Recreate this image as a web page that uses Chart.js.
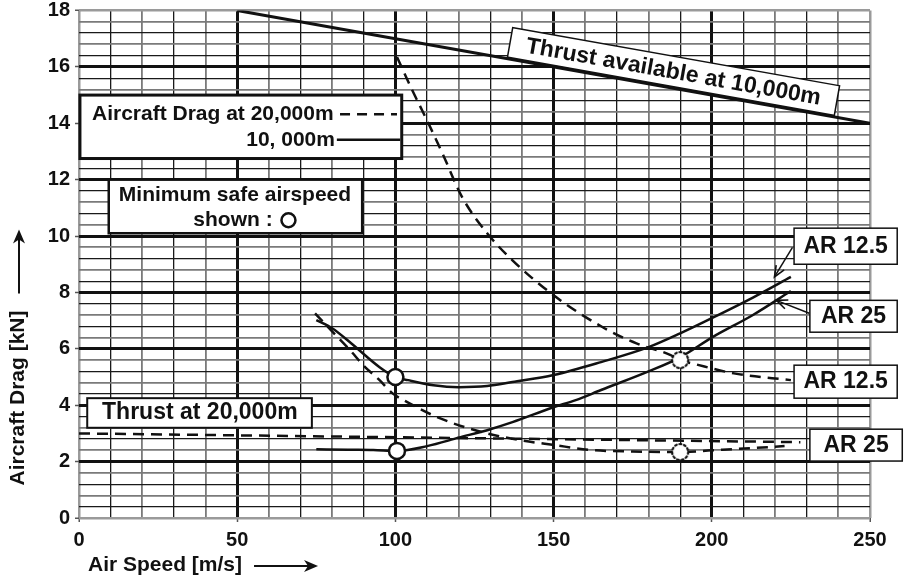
<!DOCTYPE html>
<html><head><meta charset="utf-8">
<script src="https://cdn.jsdelivr.net/npm/chart.js@4/dist/chart.umd.min.js"></script>
<style>html,body{margin:0;padding:0;background:#fff}#wrap{width:904px;height:578px;position:relative}</style>
</head><body><div id="wrap"><canvas id="c" width="904" height="578"></canvas></div>
<script>
const FONT = '"Liberation Sans", Arial, Helvetica, sans-serif';

// Tick labels shown on the axes
const xTickLabels = [0, 50, 100, 150, 200, 250];
const yTickLabels = [0, 2, 4, 6, 8, 10, 12, 14, 16, 18];

// Aircraft drag at 10,000 m (solid)
const ar125_10k_speed = [75, 80, 86, 95, 100, 104, 112, 120, 129, 137, 150, 165, 180, 190, 200, 213, 225];
const ar125_10k_drag  = [7.02, 6.73, 6.2, 5.35, 5.0, 4.89, 4.71, 4.64, 4.68, 4.82, 5.07, 5.53, 6.06, 6.55, 7.09, 7.82, 8.55];
const ar25_10k_speed  = [75, 85, 93, 100.5, 110, 120, 130, 137, 150, 157, 165, 180, 190, 200, 213, 225];
const ar25_10k_drag   = [2.44, 2.42, 2.41, 2.38, 2.55, 2.85, 3.15, 3.4, 3.93, 4.18, 4.54, 5.2, 5.7, 6.4, 7.2, 8.05];

// Aircraft drag at 20,000 m (dashed)
const ar125_20k_speed = [100.5, 105, 110, 115, 121, 129, 137, 150, 165, 176, 187, 190, 195, 207, 225];
const ar125_20k_drag  = [16.35, 15.25, 14.1, 12.9, 11.4, 10.1, 9.14, 7.9, 6.8, 6.2, 5.78, 5.6, 5.45, 5.13, 4.89];
const ar25_20k_speed  = [74.6, 80, 85.7, 90, 95, 99, 103.6, 114, 129, 140, 150, 162, 175, 190, 200, 213, 223];
const ar25_20k_drag   = [7.26, 6.62, 5.95, 5.4, 4.89, 4.43, 4.12, 3.54, 3.0, 2.75, 2.59, 2.41, 2.36, 2.34, 2.4, 2.48, 2.55];

// Thrust lines
const thrust10k_speed = [50, 250];
const thrust10k_kN    = [18, 14];
const thrust20k_speed = [0, 228];
const thrust20k_kN    = [3.0, 2.69];

// Minimum safe airspeed markers
const minSafe10k_speed = [100, 100.5];
const minSafe10k_drag  = [5.0, 2.38];
const minSafe20k_speed = [190, 190];
const minSafe20k_drag  = [5.6, 2.34];

function pts(xs, ys) { return xs.map((x, i) => ({ x: x, y: ys[i] })); }

// dotted circle marker
const dotted = document.createElement('canvas');
dotted.width = 24; dotted.height = 24;
(function () {
  const g = dotted.getContext('2d');
  g.beginPath(); g.arc(12, 12, 8, 0, Math.PI * 2);
  g.fillStyle = '#fff'; g.fill();
  g.setLineDash([1.8, 2.8]); g.lineWidth = 2.2; g.strokeStyle = '#111'; g.lineCap = 'round';
  g.stroke();
})();

const INK = '#111';

const annot = {
  id: 'annot',
  afterDatasetsDraw(chart) {
    const ctx = chart.ctx, xs = chart.scales.x, ys = chart.scales.y;
    const X = v => xs.getPixelForValue(v), Y = d => ys.getPixelForValue(d);
    ctx.save();
    function box(v1, d1, v2, d2, lw) {
      const x1 = X(v1), y1 = Y(d1), x2 = X(v2), y2 = Y(d2);
      ctx.fillStyle = '#fff';
      ctx.fillRect(x1, y1, x2 - x1, y2 - y1);
      ctx.lineWidth = lw; ctx.strokeStyle = INK; ctx.setLineDash([]);
      ctx.strokeRect(x1, y1, x2 - x1, y2 - y1);
    }
    function text(t, v, d, size, align) {
      ctx.font = 'bold ' + size + 'px ' + FONT;
      ctx.fillStyle = INK; ctx.textAlign = align || 'center'; ctx.textBaseline = 'middle';
      ctx.fillText(t, X(v), Y(d));
    }
    function seg(v1, d1, v2, d2, lw, dash) {
      ctx.beginPath(); ctx.moveTo(X(v1), Y(d1)); ctx.lineTo(X(v2), Y(d2));
      ctx.lineWidth = lw; ctx.strokeStyle = INK; ctx.setLineDash(dash || []); ctx.stroke();
      ctx.setLineDash([]);
    }
    function arrow(v1, d1, v2, d2) {
      const x1 = X(v1), y1 = Y(d1), x2 = X(v2), y2 = Y(d2);
      ctx.beginPath(); ctx.moveTo(x1, y1); ctx.lineTo(x2, y2);
      ctx.lineWidth = 1.5; ctx.strokeStyle = INK; ctx.stroke();
      const a = Math.atan2(y2 - y1, x2 - x1), L = 12, w = 0.4;
      ctx.beginPath();
      ctx.moveTo(x2 - L * Math.cos(a - w), y2 - L * Math.sin(a - w));
      ctx.lineTo(x2, y2);
      ctx.lineTo(x2 - L * Math.cos(a + w), y2 - L * Math.sin(a + w));
      ctx.lineWidth = 1.6; ctx.stroke();
    }

    // Legend box
    box(0.3, 15.0, 102, 12.75, 3);
    text('Aircraft Drag at 20,000m', 4.1, 14.32, 21, 'left');
    seg(82.5, 14.32, 100.5, 14.32, 2.5, [10, 7]);
    text('10, 000m', 80.9, 13.39, 21, 'right');
    seg(81.5, 13.42, 101.5, 13.42, 2.5);

    // Minimum safe airspeed box
    box(9.4, 12.0, 89.5, 10.1, 2.5);
    text('Minimum safe airspeed', 49.3, 11.45, 21, 'center');
    text('shown :', 61.2, 10.56, 21, 'right');
    ctx.beginPath(); ctx.arc(X(66.2), Y(10.56), 7, 0, Math.PI * 2);
    ctx.lineWidth = 2.5; ctx.strokeStyle = INK; ctx.stroke();

    // Thrust at 20,000 m box
    box(2.6, 4.25, 73.6, 3.2, 2);
    text('Thrust at 20,000m', 38.2, 3.72, 23, 'center');

    // Right-hand labels
    box(226, 10.28, 258.6, 9.0, 1.5);
    text('AR 12.5', 242.3, 9.64, 23, 'center');
    arrow(225.5, 9.6, 219.8, 8.55);
    box(231, 7.72, 258.6, 6.59, 1.5);
    text('AR 25', 244.8, 7.15, 23, 'center');
    arrow(230.8, 7.26, 220.4, 7.72);
    box(226, 5.42, 258.6, 4.25, 1.5);
    text('AR 12.5', 242.3, 4.83, 23, 'center');
    box(231, 3.15, 260.2, 2.02, 1.5);
    text('AR 25', 245.6, 2.58, 23, 'center');

    // Rotated "Thrust available" label
    const ang = Math.atan2(Y(thrust10k_kN[1]) - Y(thrust10k_kN[0]), X(thrust10k_speed[1]) - X(thrust10k_speed[0]));
    ctx.translate(X(187.9), Y(15.84));
    ctx.rotate(ang);
    ctx.fillStyle = '#fff'; ctx.fillRect(-166, -15, 332, 30);
    ctx.lineWidth = 1.5; ctx.strokeStyle = INK; ctx.strokeRect(-166, -15, 332, 30);
    ctx.font = 'bold 23px ' + FONT; ctx.fillStyle = INK;
    ctx.textAlign = 'center'; ctx.textBaseline = 'middle';
    ctx.fillText('Thrust available at 10,000m', 0, 1);
    ctx.restore();
  },
  afterDraw(chart) {
    const ctx = chart.ctx, ca = chart.chartArea;
    ctx.save();
    ctx.fillStyle = INK; ctx.strokeStyle = INK;
    ctx.font = 'bold 21px ' + FONT;
    // x title
    const xt = 'Air Speed [m/s]';
    const tx = ca.left + 9, ty = ca.bottom + 47;
    ctx.textAlign = 'left'; ctx.textBaseline = 'middle';
    ctx.fillText(xt, tx, ty);
    const w = ctx.measureText(xt).width;
    const ax1 = tx + w + 12, ax2 = ax1 + 64;
    ctx.beginPath(); ctx.moveTo(ax1, ty + 1); ctx.lineTo(ax2 - 4, ty + 1); ctx.lineWidth = 2; ctx.stroke();
    ctx.beginPath(); ctx.moveTo(ax2, ty + 1); ctx.lineTo(ax2 - 14, ty - 5); ctx.lineTo(ax2 - 10, ty + 1); ctx.lineTo(ax2 - 14, ty + 7); ctx.closePath(); ctx.fill();
    // y title
    const yx = 18, yc = 398;
    ctx.translate(yx, yc); ctx.rotate(-Math.PI / 2);
    ctx.textAlign = 'center'; ctx.fillText('Aircraft Drag [kN]', 0, 0);
    const yw = ctx.measureText('Aircraft Drag [kN]').width;
    const b1 = yw / 2 + 17, b2 = b1 + 64;
    ctx.beginPath(); ctx.moveTo(b1, 1); ctx.lineTo(b2 - 4, 1); ctx.lineWidth = 2; ctx.stroke();
    ctx.beginPath(); ctx.moveTo(b2, 1); ctx.lineTo(b2 - 14, -5); ctx.lineTo(b2 - 10, 1); ctx.lineTo(b2 - 14, 7); ctx.closePath(); ctx.fill();
    ctx.restore();
  }
};

function gridStyleX(v) {
  if (v === 0 || v === 250) return { c: '#9a9a9a', w: 2.5 };
  if (v % 50 === 0) return { c: '#111', w: 3 };
  return (Math.round(v / 10) % 2 === 1) ? { c: '#1a1a1a', w: 1.3 } : { c: '#7a7a7a', w: 1.8 };
}
function gridStyleY(v) {
  const k = Math.round(v / 0.4);
  if (k === 0 || k === 45) return { c: '#9a9a9a', w: 2.5 };
  if (k % 5 === 0) return { c: '#111', w: 3 };
  return (k % 2 === 1) ? { c: '#1a1a1a', w: 1.3 } : { c: '#7a7a7a', w: 1.8 };
}

const lineBase = { showLine: true, pointRadius: 0, borderColor: INK, borderWidth: 2.5, cubicInterpolationMode: 'monotone', fill: false };

new Chart(document.getElementById('c'), {
  type: 'scatter',
  data: {
    datasets: [
      { label: 'Minimum safe airspeed 10,000m', data: pts(minSafe10k_speed, minSafe10k_drag), pointRadius: 8, pointStyle: 'circle', backgroundColor: '#fff', borderColor: INK, borderWidth: 2.5, order: 0 },
      { label: 'Minimum safe airspeed 20,000m', data: pts(minSafe20k_speed, minSafe20k_drag), pointStyle: dotted, pointRadius: 8, order: 0 },
      Object.assign({ label: 'AR 12.5 at 10,000m', data: pts(ar125_10k_speed, ar125_10k_drag), order: 2 }, lineBase),
      Object.assign({ label: 'AR 25 at 10,000m', data: pts(ar25_10k_speed, ar25_10k_drag), order: 2 }, lineBase),
      Object.assign({ label: 'AR 12.5 at 20,000m', data: pts(ar125_20k_speed, ar125_20k_drag), borderDash: [11, 7], order: 2 }, lineBase),
      Object.assign({ label: 'AR 25 at 20,000m', data: pts(ar25_20k_speed, ar25_20k_drag), borderDash: [11, 7], order: 2 }, lineBase),
      Object.assign({ label: 'Thrust available at 10,000m', data: pts(thrust10k_speed, thrust10k_kN), order: 3 }, lineBase, { borderWidth: 3 }),
      Object.assign({ label: 'Thrust at 20,000m', data: pts(thrust20k_speed, thrust20k_kN), borderDash: [11, 7], order: 3 }, lineBase)
    ]
  },
  options: {
    responsive: false,
    animation: false,
    devicePixelRatio: 1,
    layout: { padding: { left: 0, top: 10, right: 34, bottom: 0 } },
    plugins: { legend: { display: false }, tooltip: { enabled: false } },
    scales: {
      x: {
        type: 'linear', min: 0, max: 250,
        border: { display: false },
        grid: {
          color: c => gridStyleX(c.tick.value).c,
          lineWidth: c => gridStyleX(c.tick.value).w,
          tickColor: c => (c.tick.value % 50 === 0 ? '#555' : 'rgba(0,0,0,0)'),
          tickWidth: 1.5, tickLength: 4
        },
        ticks: {
          stepSize: 10, autoSkip: false, maxRotation: 0, padding: 6,
          color: INK, font: { family: FONT, size: 20, weight: 'bold' },
          callback: v => (xTickLabels.includes(v) ? String(v) : '')
        },
        afterFit: s => { s.height = 60; s.paddingLeft = 0; s.paddingRight = 0; }
      },
      y: {
        type: 'linear', min: 0, max: 18,
        border: { display: false },
        grid: {
          color: c => gridStyleY(c.tick.value).c,
          lineWidth: c => gridStyleY(c.tick.value).w,
          tickColor: c => (Math.round(c.tick.value / 0.4) % 5 === 0 ? '#555' : 'rgba(0,0,0,0)'),
          tickWidth: 1.5, tickLength: 4
        },
        ticks: {
          stepSize: 0.4, autoSkip: false, padding: 5,
          color: INK, font: { family: FONT, size: 20, weight: 'bold' },
          callback: v => { const r = Math.round(v * 10) / 10; return yTickLabels.includes(r) ? String(r) : ''; }
        },
        afterFit: s => { s.width = 79; s.paddingTop = 0; s.paddingBottom = 0; }
      }
    }
  },
  plugins: [annot]
});
</script>
</body></html>
